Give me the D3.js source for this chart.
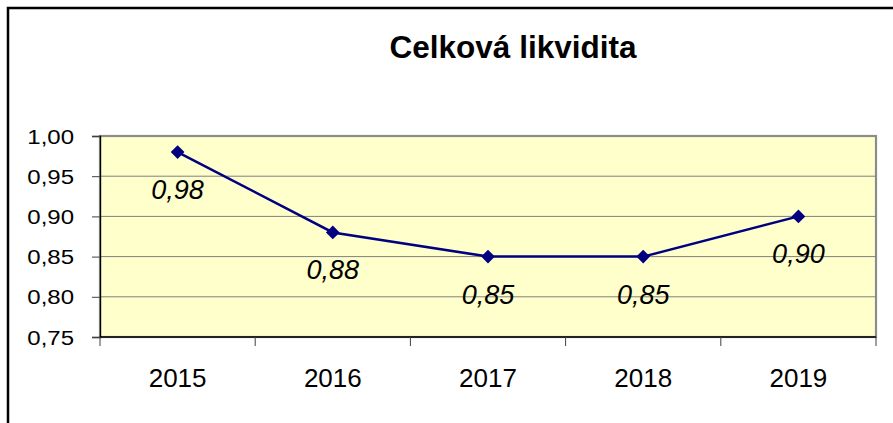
<!DOCTYPE html>
<html>
<head>
<meta charset="utf-8">
<script src="https://cdn.jsdelivr.net/npm/d3@7"></script>
<style>
  body { margin: 0; background: #fff; }
  svg { display: block; font-family: "Liberation Sans", Arial, sans-serif; }
</style>
</head>
<body>
<script>
// data
var years = ["2015", "2016", "2017", "2018", "2019"];
var values = [0.98, 0.88, 0.85, 0.85, 0.90];
var yTicks = [0.75, 0.80, 0.85, 0.90, 0.95, 1.00];
var title = "Celková likvidita";

var width = 893, height = 423;
var plot = {left: 100, top: 136, right: 876, bottom: 337};

var svg = d3.select("body").append("svg")
    .attr("width", width)
    .attr("height", height);

//__outer chart border (only top and left are in view)__//
svg.append("rect")
    .attr("x", 8).attr("y", 8)
    .attr("width", width + 20).attr("height", height + 20)
    .attr("fill", "#fff")
    .attr("stroke", "#000")
    .attr("stroke-width", 2.5);

var x = d3.scaleBand()
    .domain(years)
    .range([plot.left, plot.right])
    .padding(0);

var y = d3.scaleLinear()
    .domain([0.75, 1.00])
    .range([plot.bottom, plot.top]);

var fmt = function(v) { return d3.format(".2f")(v).replace(".", ","); };

//__plot area__//
svg.append("rect")
    .attr("x", plot.left).attr("y", plot.top)
    .attr("width", plot.right - plot.left)
    .attr("height", plot.bottom - plot.top)
    .attr("fill", "#FFFFCC")
    .attr("stroke", "#8c8c8c")
    .attr("stroke-width", 2.2);

// gridlines
svg.append("g").selectAll("line")
    .data(yTicks.filter(function(t) { return t > 0.75 && t < 1.0; }))
    .enter().append("line")
    .attr("x1", plot.left).attr("x2", plot.right)
    .attr("y1", function(d) { return y(d); })
    .attr("y2", function(d) { return y(d); })
    .attr("stroke", "#808080")
    .attr("stroke-width", 1);

//__y axis__//
var yAxis = d3.axisLeft(y)
    .tickValues(yTicks)
    .tickSize(8)
    .tickPadding(0)
    .tickFormat(fmt);

var gy = svg.append("g")
    .attr("transform", "translate(" + plot.left + ",0)")
    .call(yAxis)
    .attr("font-family", null)
    .attr("font-size", null);
gy.select(".domain").attr("stroke", "#000").attr("stroke-width", 1.3);
gy.selectAll(".tick line").attr("stroke", "#404040");
gy.selectAll(".tick text")
    .attr("x", null).attr("dy", null)
    .attr("fill", "#000")
    .style("font-size", "24px")
    .attr("transform", "translate(-26,7) scale(1,0.84)");

//__x axis: line plus ticks on category boundaries__//
svg.append("line")
    .attr("x1", plot.left).attr("x2", plot.right)
    .attr("y1", plot.bottom).attr("y2", plot.bottom)
    .attr("stroke", "#000").attr("stroke-width", 1.5);

var bounds = years.map(function(d) { return x(d); }).concat([x(years[years.length - 1]) + x.bandwidth()]);
svg.append("g").selectAll("line")
    .data(bounds)
    .enter().append("line")
    .attr("x1", function(d) { return d; }).attr("x2", function(d) { return d; })
    .attr("y1", plot.bottom).attr("y2", plot.bottom + 9)
    .attr("stroke", "#404040");

svg.append("g").selectAll("text")
    .data(years)
    .enter().append("text")
    .attr("x", function(d) { return x(d) + x.bandwidth() / 2; })
    .attr("y", 387)
    .attr("text-anchor", "middle")
    .style("font-size", "26px")
    .text(function(d) { return d; });

//__series line + diamond markers__//
var cx = function(d, i) { return x(years[i]) + x.bandwidth() / 2; };

var line = d3.line()
    .x(cx)
    .y(function(d) { return y(d); });

svg.append("path")
    .datum(values)
    .attr("d", line)
    .attr("fill", "none")
    .attr("stroke", "#000080")
    .attr("stroke-width", 2.5);

svg.append("g").selectAll("path")
    .data(values)
    .enter().append("path")
    .attr("d", d3.symbol().type(d3.symbolDiamond2).size(120))
    .attr("transform", function(d, i) { return "translate(" + cx(d, i) + "," + y(d) + ")"; })
    .attr("fill", "#000080");

// data labels
svg.append("g").selectAll("text")
    .data(values)
    .enter().append("text")
    .attr("x", cx)
    .attr("y", function(d) { return y(d) + 47; })
    .attr("text-anchor", "middle")
    .style("font-size", "27px")
    .style("font-style", "italic")
    .text(function(d) { return fmt(d); });

//__title__//
svg.append("text")
    .attr("x", 513)
    .attr("y", 58)
    .attr("text-anchor", "middle")
    .style("font-size", "31.5px")
    .style("font-weight", "bold")
    .text(title);
</script>
</body>
</html>
